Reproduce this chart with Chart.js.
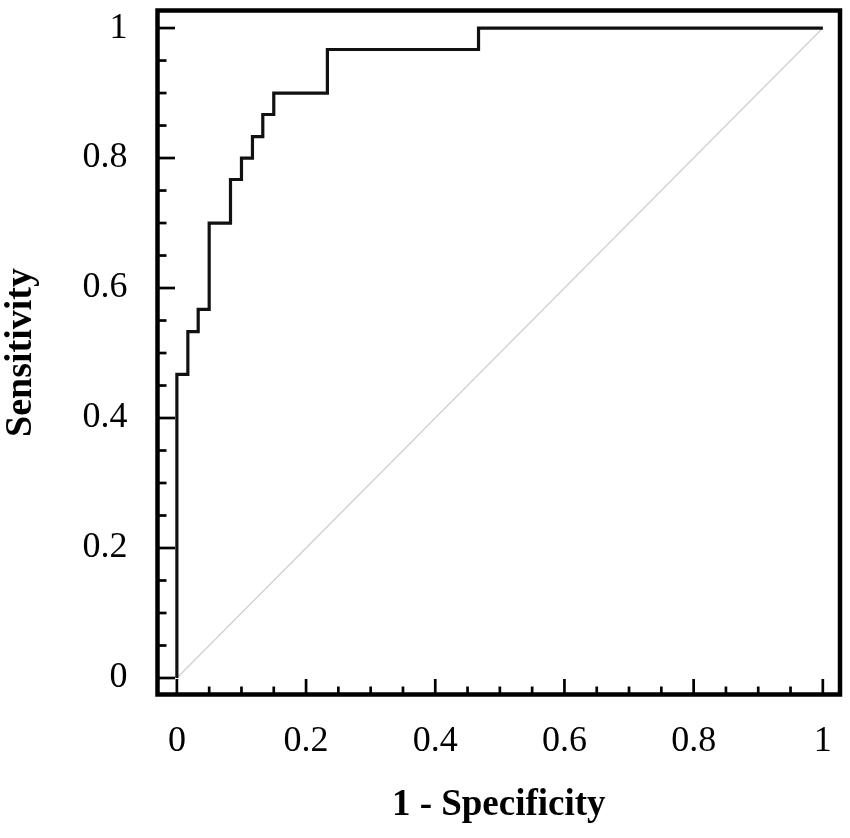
<!DOCTYPE html>
<html>
<head>
<meta charset="utf-8">
<script src="https://cdn.jsdelivr.net/npm/chart.js@4.4.1/dist/chart.umd.min.js"></script>
<style>
  html, body { margin: 0; padding: 0; background: #fff; }
  #wrap { width: 850px; height: 838px; }
</style>
</head>
<body>
<div id="wrap"><canvas id="roc"></canvas></div>
<script>
// ROC operating points (1 - specificity, sensitivity)
const fpr = [0, 0, 0.017, 0.033, 0.05, 0.083, 0.1, 0.117, 0.133, 0.15, 0.233, 0.467, 1];
const tpr = [0, 0.467, 0.533, 0.567, 0.7, 0.767, 0.8, 0.833, 0.867, 0.9, 0.967, 1, 1];

// chance line
const chanceX = [0, 1];
const chanceY = [0, 1];

const tickValues = [0, 0.2, 0.4, 0.6, 0.8, 1];
const tickLabels = ['0', '0.2', '0.4', '0.6', '0.8', '1'];
const minorStep = 0.05;

const serif = 'Liberation Serif, Times New Roman, serif';

// frame box + inward major/minor ticks
const frameTicks = {
  id: 'frameTicks',
  afterDraw(chart) {
    const { ctx, chartArea: a, scales: { x, y } } = chart;
    ctx.save();
    ctx.strokeStyle = '#000';
    ctx.lineWidth = 2.7;
    for (let k = 0; k <= 20; k++) {
      const v = k * minorStep;
      const major = k % 4 === 0;
      const px = x.getPixelForValue(v);
      ctx.beginPath();
      ctx.moveTo(px, a.bottom);
      ctx.lineTo(px, a.bottom - (major ? 15.5 : 8));
      ctx.stroke();
      const py = y.getPixelForValue(v);
      ctx.beginPath();
      ctx.moveTo(a.left, py);
      ctx.lineTo(a.left + (major ? 17.5 : 9), py);
      ctx.stroke();
    }
    ctx.lineWidth = 4.5;
    ctx.strokeRect(a.left, a.top, a.right - a.left, a.bottom - a.top);
    ctx.restore();
  }
};

const setTicks = s => { s.ticks = tickValues.map(v => ({ value: v })); };
const labelFor = v => tickLabels[tickValues.indexOf(v)];

new Chart(document.getElementById('roc'), {
  type: 'scatter',
  data: {
    datasets: [{
      label: 'ROC',
      data: fpr.map((v, i) => ({ x: v, y: tpr[i] })),
      showLine: true,
      stepped: 'before',
      borderColor: '#111',
      borderWidth: 3.2,
      pointRadius: 0,
      order: 0
    }, {
      label: 'Chance',
      data: chanceX.map((v, i) => ({ x: v, y: chanceY[i] })),
      showLine: true,
      borderColor: 'rgb(208,208,208)',
      borderWidth: 1.3,
      pointRadius: 0,
      order: 1
    }]
  },
  options: {
    responsive: true,
    maintainAspectRatio: false,
    animation: false,
    layout: { padding: { top: 10.5, right: 10, left: 0, bottom: 0 } },
    plugins: {
      legend: { display: false },
      tooltip: { enabled: false }
    },
    scales: {
      x: {
        type: 'linear',
        min: -0.03,
        max: 1.0266,
        afterBuildTicks: setTicks,
        afterFit: s => { s.height = 143.5; s.paddingLeft = 0; s.paddingRight = 0; },
        grid: { display: false },
        border: { display: false },
        ticks: {
          callback: labelFor,
          autoSkip: false,
          maxRotation: 0,
          padding: 17,
          color: '#000',
          font: { family: serif, size: 36 }
        },
        title: {
          display: true,
          text: '1 - Specificity',
          color: '#000',
          padding: { top: 0, bottom: 10 },
          font: { family: serif, size: 37, weight: 'bold' }
        }
      },
      y: {
        type: 'linear',
        min: -0.0254,
        max: 1.027,
        afterBuildTicks: setTicks,
        afterFit: s => { s.width = 157.5; s.paddingTop = 0; s.paddingBottom = 0; },
        grid: { display: false },
        border: { display: false },
        ticks: {
          callback: labelFor,
          autoSkip: false,
          padding: 22,
          color: '#000',
          font: { family: serif, size: 36 }
        },
        title: {
          display: true,
          text: 'Sensitivity',
          color: '#000',
          padding: { top: 0, bottom: 0 },
          font: { family: serif, size: 38, weight: 'bold', lineHeight: 1.1 }
        }
      }
    }
  },
  plugins: [frameTicks]
});
</script>
</body>
</html>
